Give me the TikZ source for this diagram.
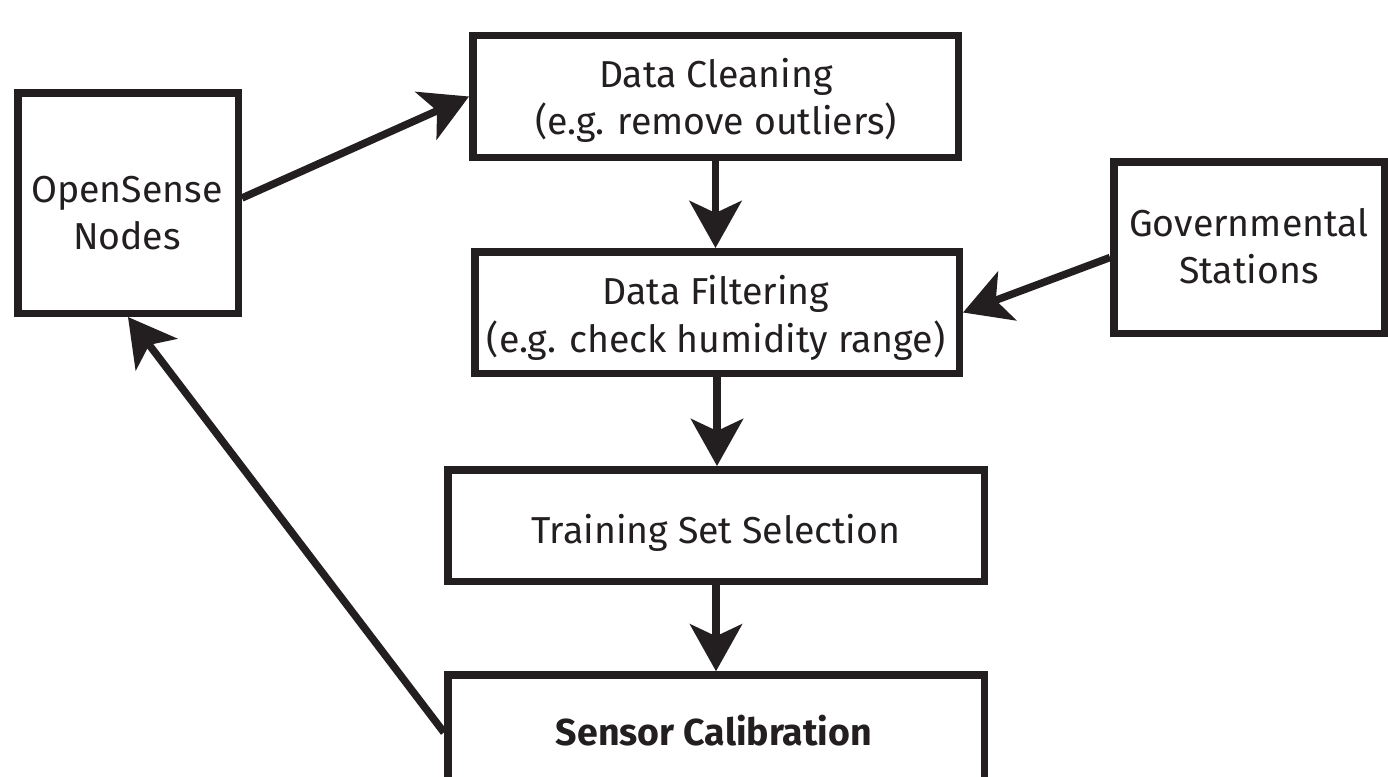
\documentclass[tikz,border=0pt]{standalone}
\usepackage{fontspec}
\setmainfont{Fira Sans}
\usetikzlibrary{arrows.meta}
\definecolor{ink}{RGB}{35,31,32}
\begin{document}
\begin{tikzpicture}[x=1pt,y=-1pt,
  box/.style={draw=ink, line width=7.5pt, inner sep=0pt},
  lbl/.style={text=ink, inner sep=0pt, anchor=base, font=\fontsize{37.5}{47}\selectfont},
  flow/.style={draw=ink, line width=7.5pt,
    -{Stealth[length=47pt,width=52pt,inset=12pt]}}]
\useasboundingbox (0,0) rectangle (1388,776);
\clip (0,0) rectangle (1388,776);
\fill[white] (0,0) rectangle (1388,776);
% boxes
\node[box, minimum width=220.5pt, minimum height=220.5pt] (open) at (128,203) {};
\node[box, minimum width=485.5pt, minimum height=121.5pt] (clean) at (715.5,96.5) {};
\node[box, minimum width=484.5pt, minimum height=121.5pt] (filt) at (717,312.5) {};
\node[box, minimum width=270.5pt, minimum height=171.5pt] (gov) at (1249,247.5) {};
\node[box, minimum width=536.5pt, minimum height=111.5pt] (train) at (716,525.5) {};
\node[box, minimum width=536.5pt, minimum height=115pt] (sensor) at (716,732.5) {};
% texts
\node[lbl] (open1) at (127,202) {OpenSense};
\node[lbl] (open2) at (127,249) {Nodes};
\node[lbl] (clean1) at (716,87) {Data Cleaning};
\node[lbl] (clean2) at (716,134) {(e.g. remove outliers)};
\node[lbl] (filt1) at (716,304) {Data Filtering};
\node[lbl] (filt2) at (716,352) {(e.g. check humidity range)};
\node[lbl] (gov1) at (1249,236) {Governmental};
\node[lbl] (gov2) at (1249,283) {Stations};
\node[lbl] (train1) at (716,543) {Training Set Selection};
\node[lbl, font=\fontsize{37.5}{47}\selectfont\bfseries] (sensor1) at (714,745) {Sensor Calibration};
% connectors
\draw[flow] ([yshift=5pt]open.east) -- (clean.west);
\draw[flow] (clean.south) -- (clean.south |- filt.north);
\draw[flow] ([yshift=-10pt]gov.west) -- (filt.east);
\draw[flow] (filt.south) -- (filt.south |- train.north);
\draw[flow] (train.south) -- (train.south |- sensor.north);
\draw[flow] (sensor.west) -- (open.south);
\end{tikzpicture}
\end{document}
